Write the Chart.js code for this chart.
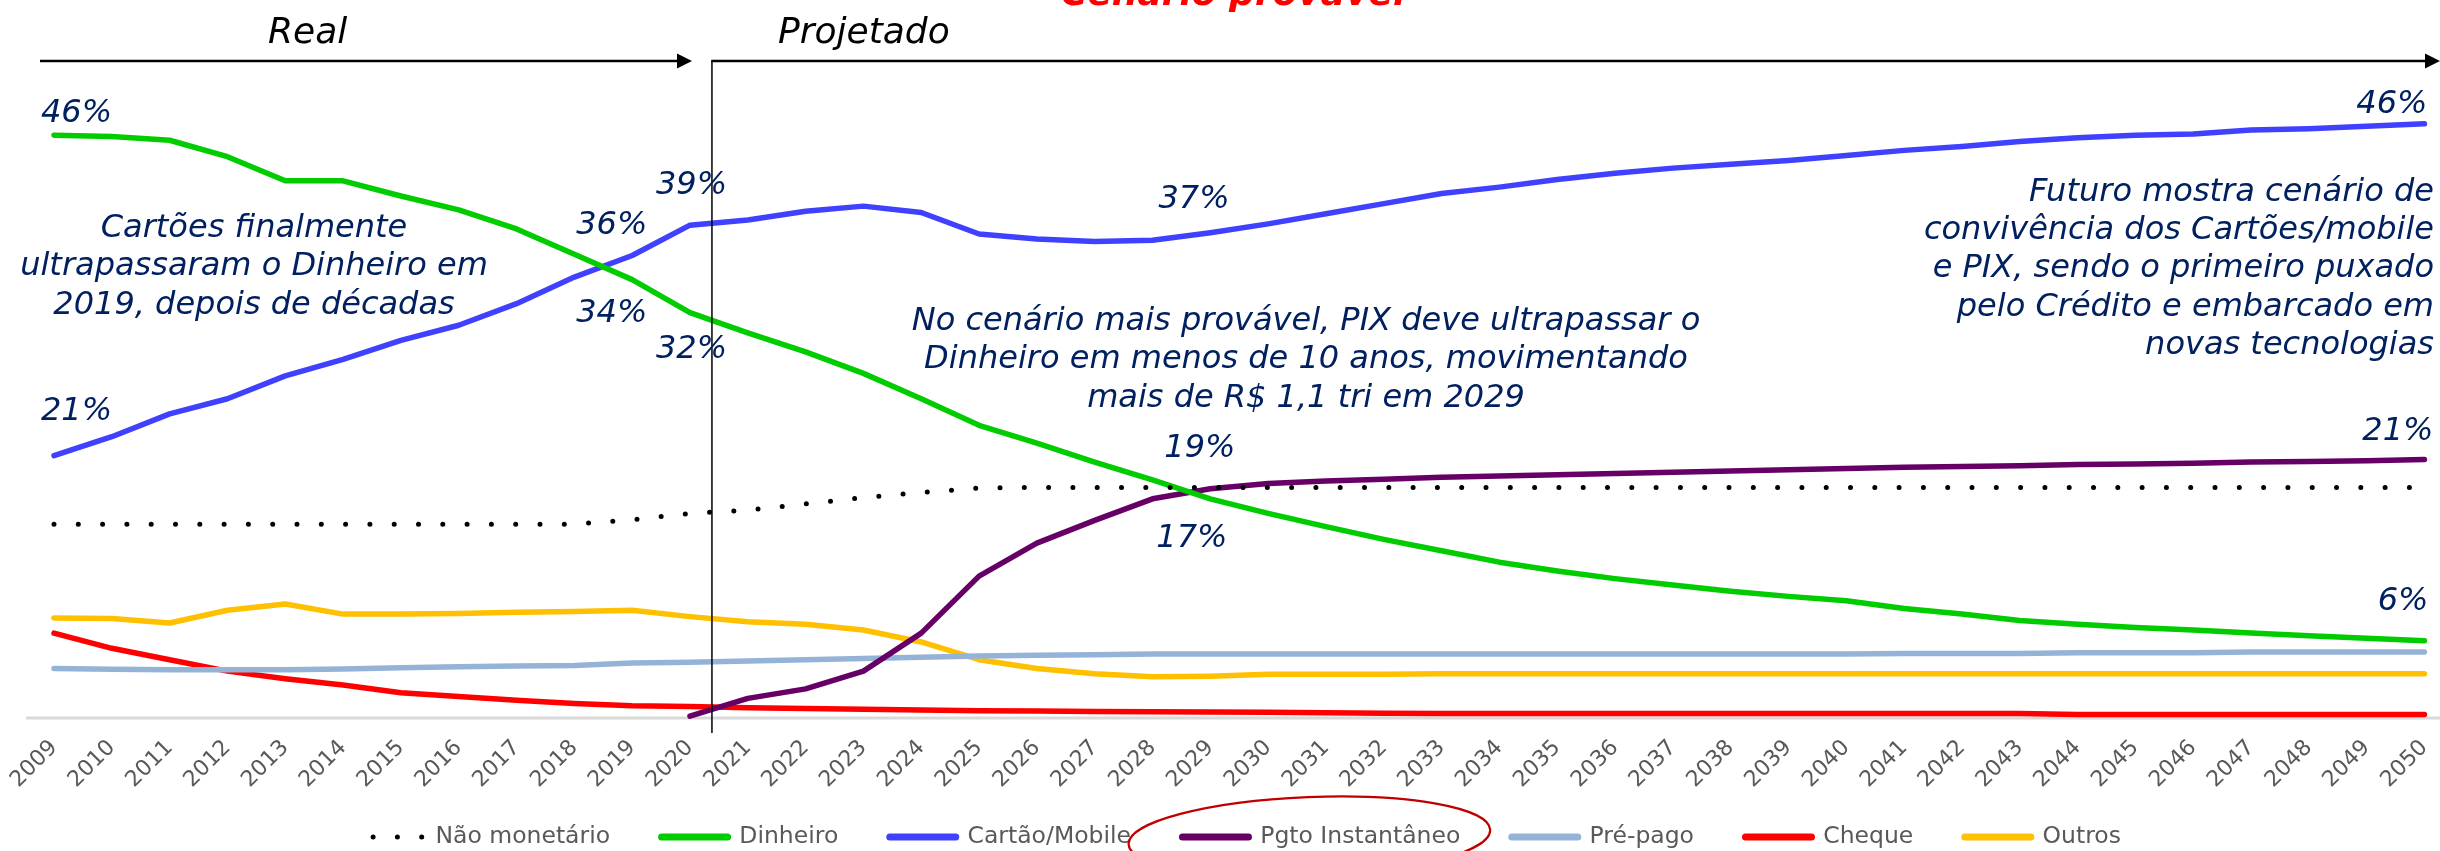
<!DOCTYPE html>
<html>
<head>
<meta charset="utf-8">
<script src="https://cdn.jsdelivr.net/npm/chart.js@4.4.1/dist/chart.umd.min.js"></script>
<style>
html,body{margin:0;padding:0;background:#ffffff;}
canvas{display:block;}
</style>
</head>
<body>
<canvas id="c" width="2440" height="851" style="width:2440px;height:851px"></canvas>
<script>
// ---------------- DATA ----------------
const years = ['2009','2010','2011','2012','2013','2014','2015','2016','2017','2018','2019','2020','2021','2022','2023','2024','2025','2026','2027','2028','2029','2030','2031','2032','2033','2034','2035','2036','2037','2038','2039','2040','2041','2042','2043','2044','2045','2046','2047','2048','2049','2050'];

const naoMonetario = [15.3,15.3,15.3,15.3,15.3,15.3,15.3,15.3,15.3,15.3,
  15.65,16.15,16.4,16.9,17.4,17.8,18.15,18.2,18.2,18.2,
  18.2,18.2,18.2,18.2,18.2,18.2,18.2,18.2,18.2,18.2,
  18.2,18.2,18.2,18.2,18.2,18.2,18.2,18.2,18.2,18.2,
  18.2,18.2];

const dinheiro = [46.0,45.9,45.6,44.3,42.4,42.4,41.2,40.1,38.6,36.6,
  34.6,32.0,30.4,28.9,27.2,25.2,23.1,21.7,20.2,18.8,
  17.3,16.15,15.1,14.1,13.2,12.3,11.6,11.0,10.5,10.0,
  9.6,9.25,8.65,8.2,7.7,7.4,7.15,6.95,6.7,6.5,
  6.3,6.1];

const cartaoMobile = [20.7,22.2,24.0,25.2,27.0,28.3,29.8,31.0,32.7,34.8,
  36.5,38.9,39.3,40.0,40.4,39.9,38.2,37.8,37.6,37.7,
  38.3,39.0,39.8,40.6,41.4,41.9,42.5,43.0,43.4,43.7,
  44.0,44.4,44.8,45.1,45.5,45.8,46.0,46.1,46.4,46.5,
  46.7,46.9];

const pgtoInstantaneo = [null,null,null,null,null,null,null,null,null,null,
  null,0.15,1.55,2.3,3.7,6.7,11.2,13.8,15.6,17.3,
  18.1,18.5,18.7,18.85,19.0,19.1,19.2,19.3,19.4,19.5,
  19.6,19.7,19.8,19.85,19.9,20.0,20.05,20.1,20.2,20.25,
  20.3,20.4];

const prePago = [3.9,3.85,3.8,3.8,3.8,3.87,3.97,4.05,4.1,4.15,
  4.35,4.4,4.5,4.6,4.7,4.8,4.9,4.95,5.0,5.05,
  5.05,5.05,5.05,5.05,5.05,5.05,5.05,5.05,5.05,5.05,
  5.05,5.05,5.1,5.1,5.1,5.15,5.15,5.15,5.2,5.2,
  5.2,5.2];

const cheque = [6.7,5.5,4.6,3.7,3.1,2.6,2.0,1.7,1.4,1.15,
  0.97,0.9,0.8,0.75,0.7,0.63,0.58,0.55,0.52,0.5,
  0.48,0.45,0.42,0.38,0.36,0.36,0.36,0.36,0.36,0.36,
  0.36,0.36,0.36,0.36,0.36,0.28,0.28,0.28,0.28,0.28,
  0.28,0.28];

const outros = [7.9,7.85,7.5,8.5,9.0,8.2,8.2,8.25,8.35,8.4,
  8.5,8.0,7.6,7.4,6.95,6.0,4.6,3.9,3.5,3.25,
  3.3,3.45,3.45,3.45,3.5,3.5,3.5,3.5,3.5,3.5,
  3.5,3.5,3.5,3.5,3.5,3.5,3.5,3.5,3.5,3.5,
  3.5,3.5];

const seriesNames = ['Não monetário','Dinheiro','Cartão/Mobile','Pgto Instantâneo','Pré-pago','Cheque','Outros'];

// value labels: which series / year, and the text shown
const valueLabels = [
  {series: 1, year: '2009', text: '46%'},
  {series: 2, year: '2009', text: '21%'},
  {series: 2, year: '2020', text: '39%'},
  {series: 2, year: '2019', text: '36%'},
  {series: 1, year: '2019', text: '34%'},
  {series: 1, year: '2020', text: '32%'},
  {series: 2, year: '2028', text: '37%'},
  {series: 3, year: '2029', text: '19%'},
  {series: 1, year: '2029', text: '17%'},
  {series: 2, year: '2050', text: '46%'},
  {series: 3, year: '2050', text: '21%'},
  {series: 1, year: '2050', text: '6%'}
];

const noteTexts = [
  ['Cartões finalmente','ultrapassaram o Dinheiro em','2019, depois de décadas'],
  ['No cenário mais provável, PIX deve ultrapassar o','Dinheiro em menos de 10 anos, movimentando','mais de R$ 1,1 tri em 2029'],
  ['Futuro mostra cenário de','convivência dos Cartões/mobile','e PIX, sendo o primeiro puxado','pelo Crédito e embarcado em','novas tecnologias']
];

const headerTexts = {real: 'Real', proj: 'Projetado', scenario: 'Cenário provável'};

// ---------------- STYLES / LAYOUT ----------------
const FONT = '"DejaVu Sans", "Liberation Sans", sans-serif';
const NAVY = '#002060';
const GREY = '#595959';
const colors = ['#000000','#00CC00','#4040FF','#660066','#95B3D7','#FF0000','#FFC000'];

// placement of value labels relative to their data point (px)
const valueLabelPos = [
  {dx: -13, dy: -13, align: 'left'},
  {dx: -13, dy: -36, align: 'left'},
  {dx: -34, dy: -31, align: 'left'},
  {dx: -56, dy: -22, align: 'left'},
  {dx: -56, dy: 42, align: 'left'},
  {dx: -34, dy: 45, align: 'left'},
  {dx: 6, dy: -32, align: 'left'},
  {dx: -46, dy: -32, align: 'left'},
  {dx: -54, dy: 48, align: 'left'},
  {dx: 3, dy: -11, align: 'right'},
  {dx: 9, dy: -20, align: 'right'},
  {dx: 4, dy: -31, align: 'right'}
];
const notePos = [
  {x: 254, y: 237, align: 'center'},
  {x: 1306, y: 330, align: 'center'},
  {x: 2434, y: 200.7, align: 'right'}
];
const NOTE_LINE = 38.3;

const allData = [naoMonetario, dinheiro, cartaoMobile, pgtoInstantaneo, prePago, cheque, outros];

// let the rotated year labels hang below the axis box without being clipped
Chart.CategoryScale.prototype._computeLabelArea = function () { return undefined; };

const datasets = allData.map((d, i) => {
  const ds = {
    label: seriesNames[i],
    data: d,
    borderColor: colors[i],
    backgroundColor: colors[i],
    borderWidth: 5.5,
    pointRadius: 0,
    pointHoverRadius: 0,
    tension: 0,
    borderCapStyle: 'round',
    borderJoinStyle: 'round',
    fill: false,
    clip: false,
    spanGaps: false
  };
  if (i === 0) {
    ds.borderDash = [0, 24.3];
    ds.borderWidth = 5;
  }
  return ds;
});

const decor = {
  id: 'decor',
  beforeDatasetsDraw(chart) {
    const {ctx, scales: {x, y}} = chart;
    const y0 = y.getPixelForValue(0);
    ctx.save();
    ctx.strokeStyle = '#D9D9D9';
    ctx.lineWidth = 3;
    ctx.beginPath();
    ctx.moveTo(x.left - 28, y0);
    ctx.lineTo(chart.width, y0);
    ctx.stroke();
    ctx.restore();
  },
  afterDatasetsDraw(chart) {
    const {ctx, scales: {x, y}} = chart;
    const step = x.getPixelForValue(1) - x.getPixelForValue(0);
    const xDiv = x.getPixelForValue(11) + 0.38 * step;
    const yTop = y.top - 23.5;
    const y0 = y.getPixelForValue(0);
    ctx.save();
    ctx.strokeStyle = '#000';
    ctx.fillStyle = '#000';
    // vertical divider
    ctx.lineWidth = 1.5;
    ctx.beginPath();
    ctx.moveTo(xDiv, yTop);
    ctx.lineTo(xDiv, y0 + 15);
    ctx.stroke();
    // arrows
    ctx.lineWidth = 2.6;
    const leftTip = x.getPixelForValue(11) + 2;
    ctx.beginPath();
    ctx.moveTo(x.left - 14, yTop);
    ctx.lineTo(leftTip - 12, yTop);
    ctx.stroke();
    ctx.beginPath();
    ctx.moveTo(leftTip, yTop);
    ctx.lineTo(leftTip - 15, yTop - 7.5);
    ctx.lineTo(leftTip - 15, yTop + 7.5);
    ctx.closePath();
    ctx.fill();
    const rightTip = chart.width;
    ctx.beginPath();
    ctx.moveTo(xDiv - 0.75, yTop);
    ctx.lineTo(rightTip - 12, yTop);
    ctx.stroke();
    ctx.beginPath();
    ctx.moveTo(rightTip, yTop);
    ctx.lineTo(rightTip - 15, yTop - 7.5);
    ctx.lineTo(rightTip - 15, yTop + 7.5);
    ctx.closePath();
    ctx.fill();
    ctx.restore();
  },
  afterDraw(chart) {
    const {ctx, scales: {x, y}} = chart;
    ctx.save();
    ctx.textBaseline = 'alphabetic';
    // headers
    ctx.fillStyle = '#000';
    ctx.font = 'italic 36px ' + FONT;
    ctx.textAlign = 'left';
    ctx.fillText(headerTexts.real, 268, 43);
    ctx.fillText(headerTexts.proj, 778, 43);
    ctx.fillStyle = '#FF0000';
    ctx.font = 'italic bold 36px ' + FONT;
    ctx.fillText(headerTexts.scenario, 1061, 5);
    // value labels
    ctx.fillStyle = NAVY;
    ctx.font = 'italic 32px ' + FONT;
    valueLabels.forEach((lb, k) => {
      const idx = years.indexOf(lb.year);
      const v = allData[lb.series][idx];
      const px = x.getPixelForValue(idx);
      const py = y.getPixelForValue(v);
      const p = valueLabelPos[k];
      ctx.textAlign = p.align;
      ctx.fillText(lb.text, px + p.dx, py + p.dy);
    });
    // notes
    noteTexts.forEach((lines, k) => {
      const p = notePos[k];
      ctx.textAlign = p.align;
      lines.forEach((t, j) => ctx.fillText(t, p.x, p.y + j * NOTE_LINE));
    });
    // ellipse around the instant payment legend entry
    const hb = chart.legend && chart.legend.legendHitBoxes && chart.legend.legendHitBoxes[3];
    if (hb) {
      const cx = hb.left + hb.width / 2 - 12;
      const cy = hb.top + hb.height / 2;
      ctx.strokeStyle = '#C00000';
      ctx.lineWidth = 2.2;
      ctx.beginPath();
      ctx.ellipse(cx, cy, hb.width / 2 + 42, 40, -0.04, 0, Math.PI * 2);
      ctx.stroke();
    }
    ctx.restore();
  }
};

new Chart(document.getElementById('c'), {
  type: 'line',
  data: {labels: years, datasets},
  options: {
    responsive: false,
    animation: false,
    events: [],
    layout: {
      autoPadding: false,
      padding: {left: 54, right: 15.4, top: 84.5, bottom: 0}
    },
    scales: {
      x: {
        type: 'category',
        offset: false,
        grid: {display: false, drawTicks: true, tickLength: 18.5},
        border: {display: false},
        ticks: {
          autoSkip: false,
          maxRotation: 45,
          minRotation: 45,
          padding: 0,
          labelOffset: 0,
          color: GREY,
          font: {family: FONT, size: 22, lineHeight: 1}
        },
        afterFit(s) { s.height = 55.75; }
      },
      y: {
        display: false,
        min: 0,
        max: 50
      }
    },
    plugins: {
      tooltip: {enabled: false},
      legend: {
        position: 'bottom',
        maxHeight: 77.25,
        labels: {
          usePointStyle: true,
          pointStyle: 'line',
          pointStyleWidth: 66,
          padding: 51.5,
          color: GREY,
          font: {family: FONT, size: 23.5},
          generateLabels(chart) {
            const items = Chart.defaults.plugins.legend.labels.generateLabels(chart);
            items.forEach((it) => {
              const ds = chart.data.datasets[it.datasetIndex];
              const dotted = ds.borderDash && ds.borderDash.length;
              it.pointStyle = 'line';
              it.lineCap = 'round';
              it.strokeStyle = ds.borderColor;
              it.lineWidth = dotted ? 5 : 7;
              it.lineDash = dotted ? ds.borderDash : [];
              it.lineDashOffset = dotted ? 8.9 : 0;
              it.fontColor = GREY;
            });
            return items;
          }
        }
      }
    }
  },
  plugins: [decor]
});
</script>
</body>
</html>
